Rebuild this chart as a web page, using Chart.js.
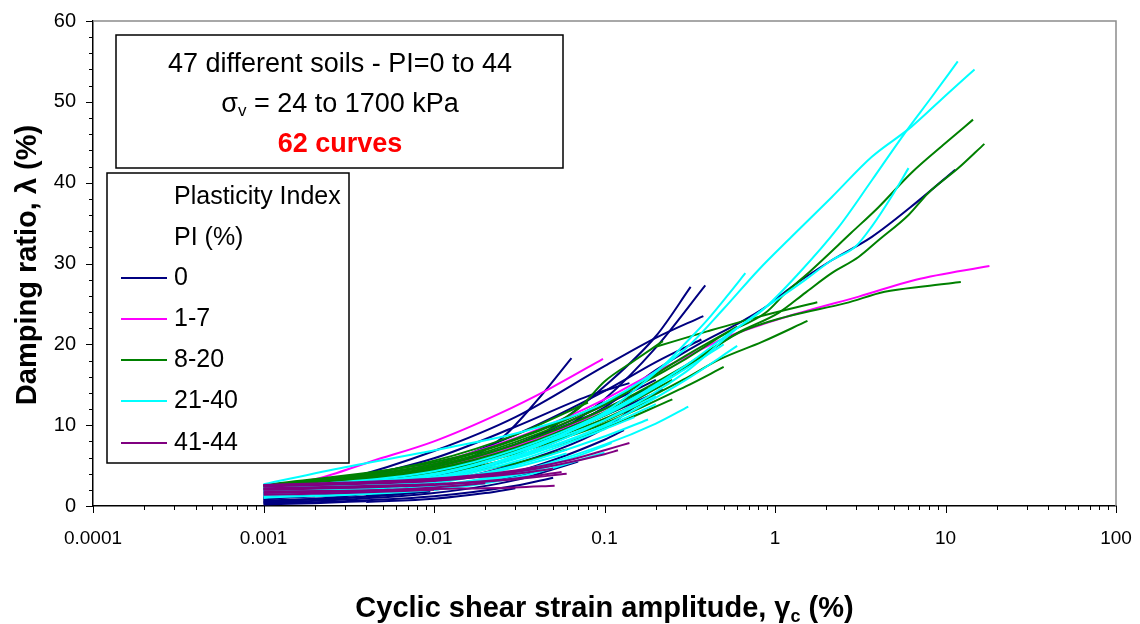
<!DOCTYPE html>
<html>
<head>
<meta charset="utf-8">
<script src="https://cdn.jsdelivr.net/npm/chart.js@4.4.0/dist/chart.umd.min.js"></script>
<style>
  html, body { margin: 0; padding: 0; background: #fff; }
  #wrap { width: 1140px; height: 624px; }
</style>
</head>
<body>
<div id="wrap"><canvas id="chart" width="1140" height="624"></canvas></div>
<script>
// groups (plasticity index) and colours
const groupLabels = ['0', '1-7', '8-20', '21-40', '41-44'];
const groupColors = ['#000080', '#FF00FF', '#008000', '#00FFFF', '#800080'];

// tick labels
const strainTicks = [0.0001, 0.001, 0.01, 0.1, 1, 10, 100];
const dampingTicks = [0, 10, 20, 30, 40, 50, 60];

// curves: [shear strain %, damping %]
const pi0Curves = [
  [[0.003,1.4],[0.01,3.4],[0.03,7],[0.06,11],[0.1,14.8],[0.2,21],[0.32,27.1]],
  [[0.004,1.2],[0.01,2.8],[0.03,6.2],[0.06,9.8],[0.1,13.2],[0.2,19.6],[0.39,27.3]],
  [[0.001,1.0],[0.005,3.0],[0.015,5.6],[0.025,8.4],[0.04,13],[0.064,18.3]],
  [[0.001,1.3],[0.003,3.3],[0.01,6.8],[0.03,11],[0.1,17.3],[0.2,20.8],[0.38,23.5]],
  [[0.001,1.0],[0.003,2.4],[0.01,5.0],[0.03,8.8],[0.1,14.2],[0.2,17.8],[0.37,20.6]],
  [[0.001,1.5],[0.003,3.2],[0.01,5.9],[0.03,9.8],[0.08,13.6],[0.14,15.2]],
  [[0.001,0.8],[0.003,1.8],[0.01,3.8],[0.03,6.7],[0.1,11.2],[0.22,14.4]],
  [[0.001,0.5],[0.003,1.2],[0.01,2.8],[0.03,5.2],[0.1,9.6],[0.15,12.3]],
  [[0.003,1.5],[0.01,3.6],[0.03,6.8],[0.1,12.2],[0.2,16.8],[0.37,20.2],[0.61,22.6],[0.88,24.6],[1.25,27.1],[2.15,30.4],[3.7,33.3],[6.7,37.5],[11.4,41.6]],
  [[0.001,0.3],[0.003,0.6],[0.01,1.2],[0.03,2.5],[0.05,3.5]],
  [[0.001,0.6],[0.003,1.0],[0.01,2.0],[0.02,3.0],[0.04,4.2]],
  [[0.001,0.9],[0.003,1.4],[0.01,2.4],[0.03,4.2],[0.1,8.2],[0.13,9.4]],
  [[0.001,1.2],[0.003,2.0],[0.01,3.5],[0.03,6.0],[0.1,10.6]],
  [[0.001,2.0],[0.003,3.0],[0.01,4.8],[0.03,7.6],[0.1,12],[0.18,14.6]],
  [[0.001,0.2],[0.002,0.35],[0.004,0.6]],
  [[0.001,0.7],[0.003,1.0],[0.006,1.4],[0.0095,1.8]],
  [[0.001,1.1],[0.003,1.5],[0.01,2.3],[0.02,3.2]],
  [[0.004,0.5],[0.01,0.9],[0.02,1.6],[0.03,2.2]],
  [[0.001,1.8],[0.01,4.4],[0.03,7.6],[0.1,12.5],[0.2,15.6]],
  [[0.001,0.4],[0.003,0.8],[0.01,1.6],[0.03,3.2],[0.07,5.5]]
];

const pi1to7Curves = [
  [[0.001,2.3],[0.002,3.3],[0.0044,5.6],[0.01,8.0],[0.024,11.4],[0.0475,14.5],[0.098,18.2]],
  [[0.001,2.0],[0.003,3.2],[0.01,5.3],[0.03,8.4],[0.06,11],[0.1,13.2],[0.2,16.6],[0.34,19],[0.52,20.9],[0.88,22.6],[1.64,24.3],[3.1,25.9],[6.7,28],[18.1,29.7]],
  [[0.001,1.8],[0.003,2.8],[0.01,4.7],[0.03,7.4],[0.07,10.4],[0.11,12.4]]
];

const pi8to20Curves = [
  [[0.001,2.5],[0.01,5.2],[0.03,8.2],[0.1,12.8],[0.3,18.2],[0.5,21.2],[0.88,23.9],[1.16,26.4],[1.64,29.2],[2.8,33.8],[4.06,37],[6.3,41.2],[10,44.9],[14.5,47.8]],
  [[0.001,2.3],[0.01,4.8],[0.03,7.6],[0.1,12],[0.3,17.4],[0.6,21.4],[1.05,23.9],[1.51,26.4],[2.15,28.8],[3.09,30.8],[4.06,32.9],[6.07,36],[7.9,38.7],[11.9,41.8],[16.9,44.8]],
  [[0.001,2.4],[0.01,4.6],[0.03,7.2],[0.1,11.6],[0.3,17.2],[0.61,21.4],[1.16,23.4],[2.6,25.1],[4.4,26.5],[7.6,27.2],[12.3,27.7]],
  [[0.2,19.7],[0.4,21.6],[0.8,23.4],[1.77,25.2]],
  [[0.001,2.2],[0.01,4.3],[0.03,6.9],[0.1,10.8],[0.3,15.8],[0.47,18.1],[0.84,20.3],[1.55,22.9]],
  [[0.001,2.6],[0.01,5.4],[0.03,8.3],[0.07,12],[0.1,15.4],[0.15,18],[0.22,20.4]],
  [[0.001,2.4],[0.003,3.0],[0.01,4.2],[0.03,6.5],[0.1,10.5],[0.2,13.5]],
  [[0.001,2.3],[0.003,2.8],[0.01,3.9],[0.03,6.0],[0.1,9.6],[0.25,13.2]],
  [[0.001,2.5],[0.003,3.6],[0.01,5.6],[0.03,8.8],[0.08,12.8]],
  [[0.001,2.2],[0.01,4.2],[0.03,6.6],[0.1,10.2],[0.3,14.8],[0.5,17.2]],
  [[0.001,2.5],[0.01,5.0],[0.03,7.9],[0.1,12.5],[0.3,18.6],[0.6,22.2]],
  [[0.002,2.8],[0.01,4.5],[0.03,7.0],[0.1,11.2],[0.25,15.6]],
  [[0.001,2.4],[0.01,3.6],[0.03,5.3],[0.06,7.0]]
];

const pi21to40Curves = [
  [[0.001,1.6],[0.01,3.8],[0.03,6.6],[0.1,11.4],[0.3,17.4],[0.55,21.5],[0.84,24.2],[1.38,28.8],[2.36,34.5],[3.7,40.3],[5.8,46.2],[8.3,50.6],[11.8,55]],
  [[0.001,2.7],[0.003,4.8],[0.012,7.2],[0.036,9.4],[0.1,12.8],[0.3,19.5],[0.5,24.4],[0.8,29.2],[1.25,33.3],[2.15,38.2],[3.7,43.2],[6.3,46.9],[10.4,51.1],[14.8,54]],
  [[0.001,1.8],[0.01,3.5],[0.03,6.1],[0.1,10.6],[0.3,16.6],[0.6,22],[1.51,28],[2.15,30.4],[2.97,32.1],[3.7,34.6],[4.8,38.2],[6.07,41.8]],
  [[0.001,1.4],[0.01,3.4],[0.03,6.3],[0.1,11.6],[0.23,17.7],[0.3,20.2],[0.4,23],[0.52,25.9],[0.67,28.8]],
  [[0.001,1.2],[0.01,2.5],[0.03,4.2],[0.1,7.6],[0.2,10.2],[0.31,12.3]],
  [[0.001,1.6],[0.01,3.0],[0.03,5.0],[0.1,8.6],[0.18,10.7]],
  [[0.001,1.3],[0.01,2.4],[0.03,4.0],[0.07,6.2],[0.11,7.8]],
  [[0.001,2.0],[0.01,3.9],[0.03,6.6],[0.1,10.6],[0.2,13.6]],
  [[0.001,1.8],[0.01,3.2],[0.03,5.5],[0.1,9.5],[0.15,11]],
  [[0.001,2.2],[0.01,4.3],[0.03,7.0],[0.1,11.5],[0.25,16]],
  [[0.001,1.5],[0.01,2.8],[0.03,4.8],[0.06,6.5]],
  [[0.002,1.2],[0.01,2.2],[0.03,3.8],[0.05,5]],
  [[0.001,1.9],[0.01,3.6],[0.03,6.0],[0.1,10],[0.3,15.6],[0.6,19.8]],
  [[0.001,1.0],[0.01,2.0],[0.03,3.5],[0.1,6.6]],
  [[0.001,1.7],[0.01,3.3],[0.03,5.8],[0.1,9.8],[0.2,12.6]],
  [[0.001,2.3],[0.01,4.0],[0.03,6.7],[0.1,11.2],[0.3,17],[0.5,20]]
];

const pi41to44Curves = [
  [[0.001,2.6],[0.003,2.9],[0.01,3.4],[0.03,4.4],[0.06,5.6],[0.1,6.9],[0.14,7.8]],
  [[0.001,1.8],[0.003,1.9],[0.01,2.1],[0.03,2.3],[0.051,2.5]],
  [[0.001,2.4],[0.003,2.7],[0.01,3.1],[0.02,3.7],[0.04,4.7]],
  [[0.001,2.1],[0.003,2.3],[0.01,2.7],[0.03,3.4],[0.056,4.2]],
  [[0.001,2.6],[0.003,2.8],[0.01,3.2],[0.03,4.0],[0.05,4.6]],
  [[0.001,1.6],[0.003,1.8],[0.01,2.3],[0.02,2.8]],
  [[0.001,2.2],[0.003,2.4],[0.01,2.7]],
  [[0.001,2.5],[0.005,2.9],[0.01,3.3],[0.03,4.2],[0.1,6.4],[0.12,6.9]],
  [[0.001,1.4],[0.003,1.6],[0.01,2.0]],
  [[0.001,2.0],[0.01,2.6],[0.03,3.3],[0.06,4.0]]
];

const groups = [pi0Curves, pi1to7Curves, pi8to20Curves, pi21to40Curves, pi41to44Curves];

// dataset 0 is painted last, so put purple first to have it on top
const datasets = [];
for (let g = groups.length - 1; g >= 0; g--) {
  groups[g].forEach(curve => {
    datasets.push({
      label: groupLabels[g],
      data: curve,
      borderColor: groupColors[g],
      borderWidth: 2,
      pointRadius: 0,
      fill: false,
      cubicInterpolationMode: 'monotone'
    });
  });
}

const FONT = "'Liberation Sans', Arial, sans-serif";

function isDecade(v) {
  return strainTicks.some(t => Math.abs(t - v) / t < 1e-6);
}

// draw text pieces side by side (for subscripts), centred on cx
function drawRuns(ctx, runs, cx, base) {
  let w = 0;
  runs.forEach(r => { ctx.font = r.font; r.w = ctx.measureText(r.t).width; w += r.w; });
  let x = cx - w / 2;
  ctx.textAlign = 'left';
  ctx.textBaseline = 'alphabetic';
  runs.forEach(r => {
    ctx.font = r.font;
    ctx.fillStyle = r.color || '#000';
    ctx.fillText(r.t, x, base + (r.dy || 0));
    x += r.w;
  });
}

const decor = {
  id: 'decor',
  afterDraw(chart) {
    const { ctx, chartArea: a } = chart;
    const xs = chart.scales.x, ys = chart.scales.y;
    ctx.save();

    // grey frame on top and right
    ctx.strokeStyle = '#8c8c8c';
    ctx.lineWidth = 1.5;
    ctx.beginPath();
    ctx.moveTo(a.left, a.top);
    ctx.lineTo(a.right, a.top);
    ctx.lineTo(a.right, a.bottom);
    ctx.stroke();

    // tick marks
    ctx.strokeStyle = '#000';
    ctx.lineWidth = 1;
    xs.ticks.forEach(t => {
      const px = Math.round(xs.getPixelForValue(t.value)) + 0.5;
      ctx.beginPath();
      ctx.moveTo(px, a.bottom);
      ctx.lineTo(px, a.bottom + (isDecade(t.value) ? 7 : 4));
      ctx.stroke();
    });
    for (let v = 0; v <= 60; v += 2) {
      const py = Math.round(ys.getPixelForValue(v)) + 0.5;
      ctx.beginPath();
      ctx.moveTo(a.left, py);
      ctx.lineTo(a.left - (v % 10 === 0 ? 7 : 4), py);
      ctx.stroke();
    }

    // info box
    ctx.fillStyle = '#fff';
    ctx.fillRect(116, 35, 447, 133);
    ctx.strokeStyle = '#000';
    ctx.lineWidth = 1.5;
    ctx.strokeRect(116, 35, 447, 133);
    drawRuns(ctx, [{ t: '47 different soils - PI=0 to 44', font: '27px ' + FONT }], 340, 72);
    drawRuns(ctx, [
      { t: 'σ', font: '27px ' + FONT },
      { t: 'v', font: '17px ' + FONT, dy: 4 },
      { t: ' = 24 to 1700 kPa', font: '27px ' + FONT }
    ], 340, 112);
    drawRuns(ctx, [{ t: '62 curves', font: 'bold 27px ' + FONT, color: '#ff0000' }], 340, 152);

    // legend box
    ctx.fillStyle = '#fff';
    ctx.fillRect(107, 173, 242, 290);
    ctx.strokeRect(107, 173, 242, 290);
    ctx.fillStyle = '#000';
    ctx.font = '25px ' + FONT;
    ctx.textAlign = 'left';
    ctx.textBaseline = 'middle';
    ctx.fillText('Plasticity Index', 174, 197);
    ctx.fillText('PI (%)', 174, 238);
    const rows = [278, 319, 360, 401, 443];
    groupLabels.forEach((lab, i) => {
      ctx.strokeStyle = groupColors[i];
      ctx.lineWidth = 2;
      ctx.beginPath();
      ctx.moveTo(121, rows[i]);
      ctx.lineTo(167, rows[i]);
      ctx.stroke();
      ctx.fillStyle = '#000';
      ctx.fillText(lab, 174, rows[i]);
    });

    // axis titles
    drawRuns(ctx, [
      { t: 'Cyclic shear strain amplitude, ', font: 'bold 29px ' + FONT },
      { t: 'γ', font: 'bold 29px ' + FONT },
      { t: 'c', font: 'bold 18px ' + FONT, dy: 5 },
      { t: ' (%)', font: 'bold 29px ' + FONT }
    ], (a.left + a.right) / 2, 617);

    ctx.translate(36, 265);
    ctx.rotate(-Math.PI / 2);
    drawRuns(ctx, [{ t: 'Damping ratio, λ (%)', font: 'bold 29px ' + FONT }], 0, 0);

    ctx.restore();
  }
};

new Chart(document.getElementById('chart'), {
  type: 'line',
  data: { datasets },
  options: {
    responsive: false,
    animation: false,
    events: [],
    layout: { padding: { top: 21, right: 24, bottom: 0, left: 0 } },
    plugins: { legend: { display: false }, tooltip: { enabled: false } },
    scales: {
      x: {
        type: 'logarithmic',
        min: 0.0001,
        max: 100,
        afterBuildTicks: s => {
          const t = [];
          for (let e = -4; e <= 2; e++) {
            for (let m = 1; m <= 9; m++) {
              t.push({ value: m * Math.pow(10, e) });
              if (e === 2) break;
            }
          }
          s.ticks = t;
        },
        afterFit: s => { s.height = 118; s.paddingLeft = 0; s.paddingRight = 0; },
        border: { display: true, color: '#000', width: 1.5 },
        grid: { display: true, drawOnChartArea: false, drawTicks: true, tickLength: 7, tickColor: 'rgba(0,0,0,0)' },
        ticks: {
          autoSkip: false,
          maxRotation: 0,
          padding: 14,
          color: '#000',
          font: { family: FONT, size: 19 },
          callback: v => {
            const k = strainTicks.find(t => Math.abs(t - v) / t < 1e-6);
            return k !== undefined ? String(k) : '';
          }
        }
      },
      y: {
        min: 0,
        max: 60,
        afterBuildTicks: s => {
          const t = [];
          for (let v = 0; v <= 60; v += 2) t.push({ value: v });
          s.ticks = t;
        },
        afterFit: s => { s.width = 93; s.paddingTop = 0; s.paddingBottom = 0; },
        border: { display: true, color: '#000', width: 1.5 },
        grid: { display: true, drawOnChartArea: false, drawTicks: true, tickLength: 7, tickColor: 'rgba(0,0,0,0)' },
        ticks: {
          autoSkip: false,
          padding: 10,
          color: '#000',
          font: { family: FONT, size: 20 },
          callback: v => (dampingTicks.includes(v) ? String(v) : '')
        }
      }
    }
  },
  plugins: [decor]
});
</script>
</body>
</html>
